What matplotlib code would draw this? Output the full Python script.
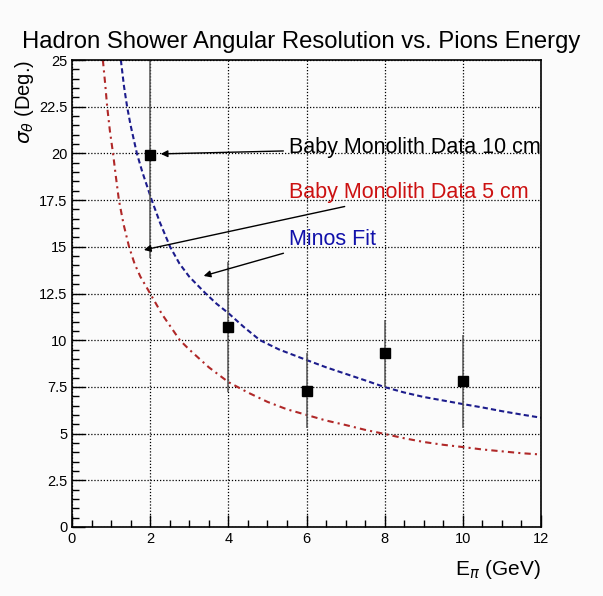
import matplotlib.pyplot as plt
import numpy as np

# measured points (Baby Monolith 10 cm)
e_data = [2, 4, 6, 8, 10]
sig_data = [19.9, 10.7, 7.3, 9.3, 7.8]
sig_err = [5.5, 3.5, 2.0, 1.8, 2.5]

# Minos fit curve
e_minos = [1.25, 1.33, 1.41, 1.5, 1.66, 1.8, 2.04, 2.25, 2.51, 2.75, 3.0, 3.42, 3.7, 4.0,
           4.4, 4.81, 5.3, 6.0, 6.5, 7.0, 7.5, 8.0, 8.5, 9.0, 9.5, 10.0, 10.5, 11.0, 11.5, 12.0]
sig_minos = [25.0, 23.6, 22.5, 21.5, 20.0, 19.0, 17.5, 16.3, 15.0, 14.1, 13.4, 12.5, 11.95, 11.45,
             10.7, 10.0, 9.5, 8.94, 8.55, 8.2, 7.85, 7.49, 7.2, 6.96, 6.77, 6.58, 6.4, 6.2, 6.02, 5.85]

# 5 cm curve
e_5cm = [0.79, 0.85, 0.90, 0.97, 1.05, 1.12, 1.20, 1.32, 1.46, 1.6, 1.75, 2.0, 2.3, 2.76, 3.0,
         3.5, 4.0, 4.5, 5.0, 5.5, 6.0, 6.5, 7.0, 7.5, 8.0, 8.5, 9.0, 9.5, 10.0, 10.5, 11.0, 11.5, 12.0]
sig_5cm = [25.0, 23.7, 22.5, 21.2, 20.0, 18.8, 17.5, 16.2, 15.0, 14.1, 13.4, 12.5, 11.4, 10.0, 9.5,
           8.55, 7.76, 7.2, 6.7, 6.3, 6.0, 5.7, 5.46, 5.2, 4.98, 4.75, 4.55, 4.4, 4.28, 4.15, 4.05, 3.95, 3.88]

plt.rcParams['font.family'] = ['Liberation Sans', 'DejaVu Sans']

fig = plt.figure(figsize=(6.03, 5.96), dpi=100)
fig.patch.set_facecolor('#fbfbfb')
ax = fig.add_axes([0.1194, 0.1158, 0.7778, 0.7835])
ax.set_facecolor('#fbfbfb')

ax.set_xlim(0, 12)
ax.set_ylim(0, 25)
ax.set_xticks([0, 2, 4, 6, 8, 10, 12])
ax.set_xticks(np.arange(0, 12.01, 0.5), minor=True)
ax.set_yticks([0, 2.5, 5, 7.5, 10, 12.5, 15, 17.5, 20, 22.5, 25])
ax.set_yticklabels(['0', '2.5', '5', '7.5', '10', '12.5', '15', '17.5', '20', '22.5', '25'])
ax.set_yticks(np.arange(0, 25.01, 0.5), minor=True)
ax.tick_params(which='both', direction='in', labelsize=10.5)
ax.tick_params(which='major', length=9, width=1)
ax.tick_params(which='minor', length=5, width=1)
ax.grid(True, which='major', color='black', linestyle=(0, (1, 1.5)), linewidth=0.9)
for s in ax.spines.values():
    s.set_linewidth(1.2)

ax.plot(e_5cm, sig_5cm, color='#b02828', linestyle=(0, (3, 2, 1, 2)), linewidth=1.5)
ax.plot(e_minos, sig_minos, color='#1c1c8c', linestyle=(0, (2.5, 1.5)), linewidth=1.5)

ax.errorbar(e_data, sig_data, yerr=sig_err, fmt='s', color='black', ecolor='#555555',
            markersize=7, elinewidth=1.1, capsize=0, clip_on=True)

ax.annotate('Baby Monolith Data 10 cm', xy=(2.2, 19.97), xytext=(5.55, 20.3),
            fontsize=15.5, color='black', va='center',
            arrowprops=dict(arrowstyle='-|>', color='black', lw=1, mutation_scale=10))
ax.annotate('Baby Monolith Data 5 cm', xy=(1.77, 14.8), xytext=(5.55, 17.9),
            fontsize=15.5, color='#cc1111', va='center',
            arrowprops=dict(arrowstyle='-|>', color='black', lw=1, mutation_scale=10))
ax.annotate('Minos Fit', xy=(3.3, 13.4), xytext=(5.55, 15.4),
            fontsize=15.5, color='#1111aa', va='center',
            arrowprops=dict(arrowstyle='-|>', color='black', lw=1, mutation_scale=10))

fig.text(0.5, 0.93, 'Hadron Shower Angular Resolution vs. Pions Energy',
         ha='center', va='center', fontsize=17.2)
fig.text(0.04, 0.90, r'$\sigma_\theta$ (Deg.)', rotation=90, ha='center', va='top', fontsize=14.5)
fig.text(0.897, 0.045, r'E$_\pi$ (GeV)', ha='right', va='center', fontsize=15)

fig.savefig('out.png', dpi=100, facecolor=fig.get_facecolor())
